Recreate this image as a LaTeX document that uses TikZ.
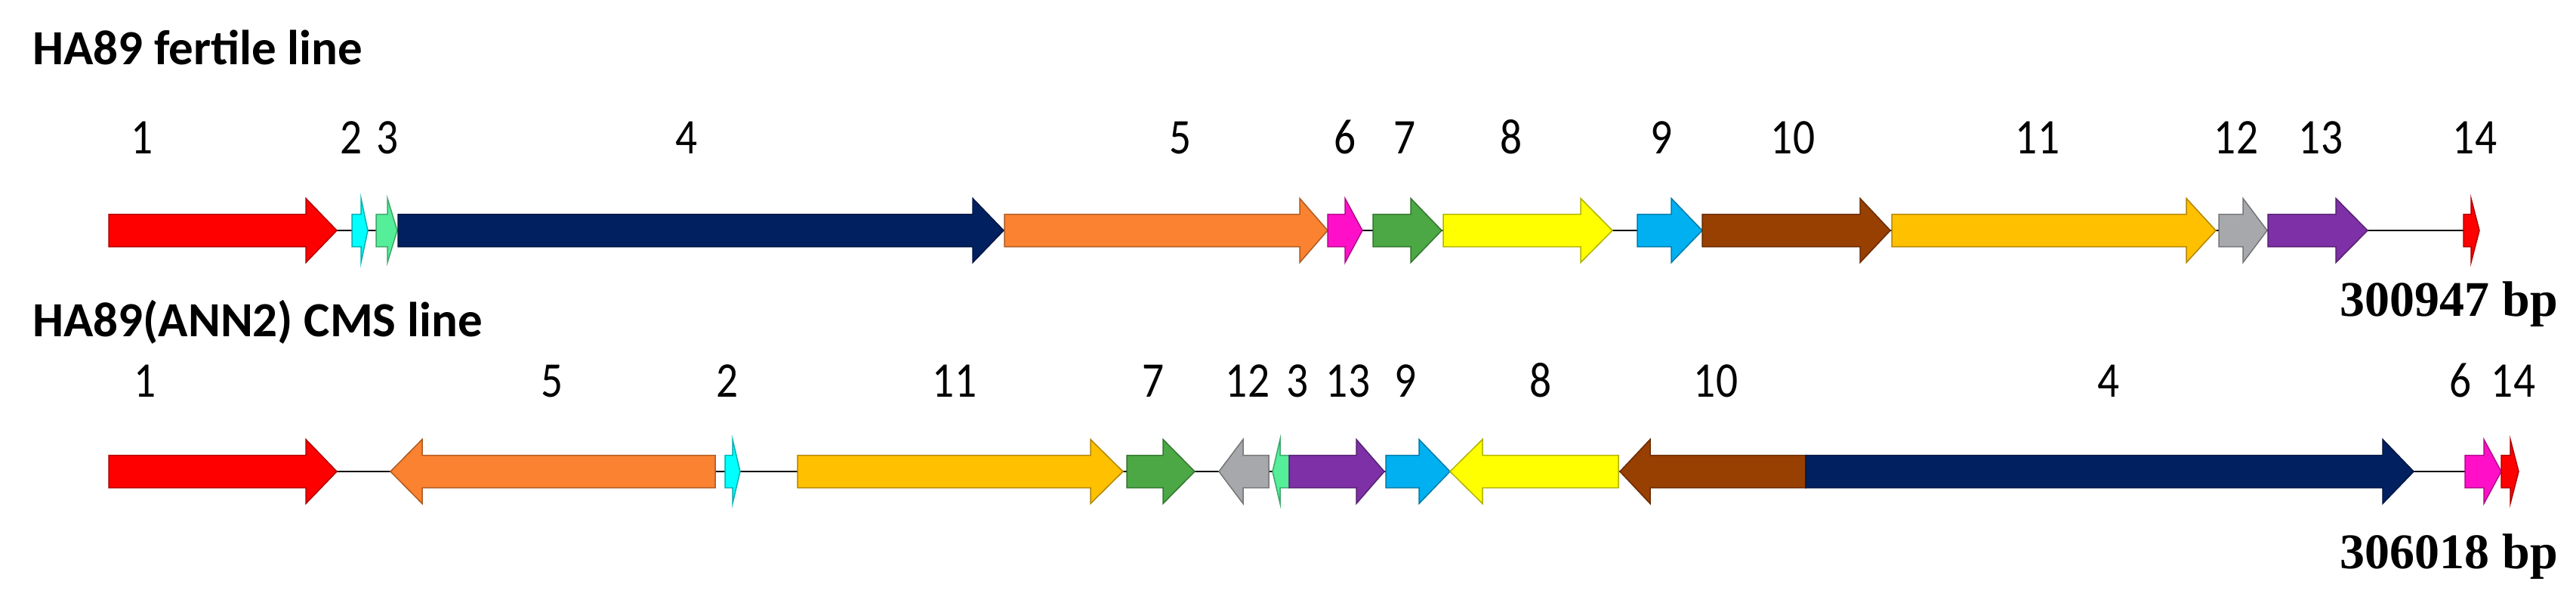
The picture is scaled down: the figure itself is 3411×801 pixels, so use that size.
\documentclass[tikz,border=0pt]{standalone}
\usepackage{fontspec}
\setmainfont{Carlito}
\newfontfamily\labfont{Carlito}[FakeStretch=0.87]
\newfontfamily\bpfont{Liberation Serif}
\definecolor{cRed}{HTML}{FF0000}
\definecolor{cCyan}{HTML}{00FFFF}
\definecolor{cMint}{HTML}{55EE99}
\definecolor{cNavy}{HTML}{002060}
\definecolor{cOrange}{HTML}{FA8231}
\definecolor{cMagenta}{HTML}{FF10C8}
\definecolor{cGreen}{HTML}{4BA845}
\definecolor{cYellow}{HTML}{FFFF00}
\definecolor{cBlue}{HTML}{00B0F0}
\definecolor{cBrown}{HTML}{983F02}
\definecolor{cAmber}{HTML}{FFC000}
\definecolor{cGrey}{HTML}{A6A8AB}
\definecolor{cPurple}{HTML}{7E30A6}
\tikzset{
  genebody/.style={line width=1.5pt, line join=miter},
  backbone/.style={line width=2.5pt, draw=black},
  lab/.style={font=\labfont\fontsize{66}{72}\selectfont, anchor=base, inner sep=0pt},
  ttl/.style={font=\bfseries\fontsize{65}{72}\selectfont, anchor=base west, inner sep=0pt},
  bplab/.style={font=\bpfont\bfseries\fontsize{66}{72}\selectfont, anchor=base east, inner sep=0pt}
}
% #1 name, #2 colour, #3 tail x, #4 tip x, #5 y, #6 head length
\newcommand{\gene}[6]{%
  \pgfmathsetmacro\gdirx{ifthenelse(#4>#3,1,-1)}%
  \pgfmathsetmacro\gbasex{#4-\gdirx*#6}%
  \coordinate (#1-tail) at (#3,#5);
  \coordinate (#1-tip) at (#4,#5);
  \filldraw[genebody, fill=#2, draw=#2!70!black] (#3,#5-21.5) -- (\gbasex,#5-21.5) -- (\gbasex,#5-42.5) -- (#4,#5) -- (\gbasex,#5+42.5) -- (\gbasex,#5+21.5) -- (#3,#5+21.5) -- cycle;
}
\begin{document}
\begin{tikzpicture}[x=1pt, y=-1pt]
\useasboundingbox (0,0) rectangle (3411,801);
% titles
\node[ttl] (title1) at (43,85) {HA89 fertile line};
\node[ttl] (title2) at (43,445) {HA89(ANN2) CMS line};
% ---------- top row ----------
\coordinate (topstart) at (144,305);
\coordinate (topend) at (3283,305);
\draw[backbone] (topstart) -- (topend);
\gene{t1}{cRed}{144}{446}{305}{41}
\gene{t2}{cCyan}{466}{487}{305}{9}
\gene{t3}{cMint}{498}{526}{305}{13}
\gene{t4}{cNavy}{527}{1329}{305}{41}
\gene{t5}{cOrange}{1330}{1758}{305}{37}
\gene{t6}{cMagenta}{1758}{1804}{305}{23}
\gene{t7}{cGreen}{1818}{1909}{305}{41}
\gene{t8}{cYellow}{1911}{2135}{305}{42}
\gene{t9}{cBlue}{2168}{2254}{305}{41}
\gene{t10}{cBrown}{2254}{2503}{305}{40}
\gene{t11}{cAmber}{2505}{2934}{305}{39}
\gene{t12}{cGrey}{2938}{3002}{305}{32}
\gene{t13}{cPurple}{3003}{3135}{305}{42}
\gene{t14}{cRed}{3262}{3283}{305}{11}
\node[lab] (lt1) at (188,203) {1};
\node[lab] (lt2) at (465,203) {2};
\node[lab] (lt3) at (513,203) {3};
\node[lab] (lt4) at (909,203) {4};
\node[lab] (lt5) at (1563,203) {5};
\node[lab] (lt6) at (1781,203) {6};
\node[lab] (lt7) at (1860,203) {7};
\node[lab] (lt8) at (2001,203) {8};
\node[lab] (lt9) at (2200,203) {9};
\node[lab] (lt10) at (2374,203) {10};
\node[lab] (lt11) at (2698,203) {11};
\node[lab] (lt12) at (2961,203) {12};
\node[lab] (lt13) at (3073,203) {13};
\node[lab] (lt14) at (3277,203) {14};
\node[bplab] (bp1) at (3387,418) {300947 bp};
% ---------- bottom row ----------
\coordinate (botstart) at (144,624);
\coordinate (botend) at (3335,624);
\draw[backbone] (botstart) -- (botend);
\gene{b1}{cRed}{144}{446}{624}{41}
\gene{b5}{cOrange}{947}{517}{624}{42}
\gene{b2}{cCyan}{960}{980}{624}{10}
\gene{b11}{cAmber}{1056}{1487}{624}{43}
\gene{b7}{cGreen}{1492}{1582}{624}{42}
\gene{b12}{cGrey}{1680}{1614}{624}{32}
\gene{b3}{cMint}{1707}{1685}{624}{10}
\gene{b13}{cPurple}{1707}{1833}{624}{37}
\gene{b9}{cBlue}{1835}{1920}{624}{41}
\gene{b8}{cYellow}{2143}{1920}{624}{43}
\gene{b10}{cBrown}{2391}{2145}{624}{40}
\gene{b4}{cNavy}{2391}{3196}{624}{41}
\gene{b6}{cMagenta}{3264}{3312}{624}{23}
\gene{b14}{cRed}{3312}{3335}{624}{11}
\node[lab] (lb1) at (192,525) {1};
\node[lab] (lb5) at (731,525) {5};
\node[lab] (lb2) at (963,525) {2};
\node[lab] (lb11) at (1264,525) {11};
\node[lab] (lb7) at (1527,525) {7};
\node[lab] (lb12) at (1652,525) {12};
\node[lab] (lb3) at (1718,525) {3};
\node[lab] (lb13) at (1785,525) {13};
\node[lab] (lb9) at (1861,525) {9};
\node[lab] (lb8) at (2040,525) {8};
\node[lab] (lb10) at (2272,525) {10};
\node[lab] (lb4) at (2792,525) {4};
\node[lab] (lb6) at (3258,525) {6};
\node[lab] (lb14) at (3328,525) {14};
\node[bplab] (bp2) at (3387,752) {306018 bp};
\end{tikzpicture}
\end{document}
